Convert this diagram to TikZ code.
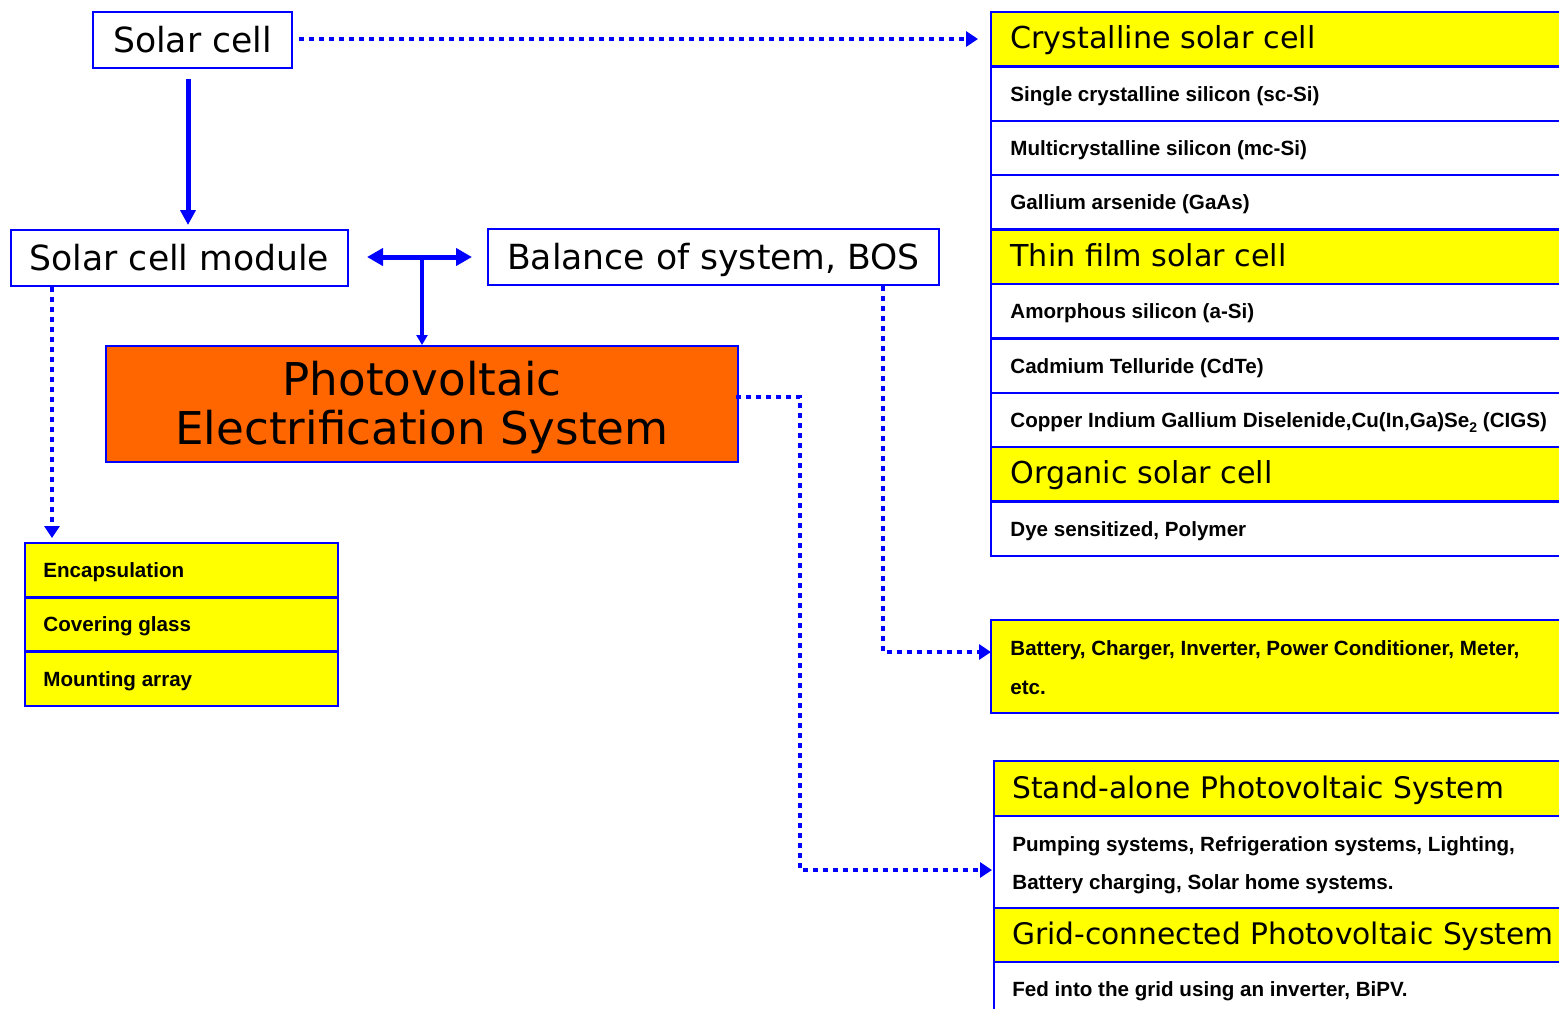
\documentclass[tikz,border=0pt]{standalone}
\usepackage{fontspec}
\setmainfont{DejaVu Sans}
\newfontfamily\arialf{Liberation Sans}
\usetikzlibrary{arrows.meta,calc}
\definecolor{bl}{RGB}{0,0,255}
\definecolor{yel}{RGB}{255,255,0}
\definecolor{org}{RGB}{255,102,0}
\begin{document}
\begin{tikzpicture}[x=0.5pt,y=-0.5pt,
  box/.style={draw=bl, line width=1pt, fill=white, inner sep=0pt, minimum height=28pt,
    font=\fontsize{17.3}{20}\selectfont, text height=12.6pt, text depth=0pt},
  row/.style={draw=bl, line width=1.2pt, inner sep=0pt, outer sep=0pt, anchor=north west,
    minimum height=27.2pt, minimum width=287pt},
  hdr/.style={anchor=west, inner sep=0pt, font=\fontsize{15.1}{18}\selectfont,
    text height=11pt, text depth=0pt},
  hdrb/.style={hdr, font=\fontsize{14.85}{18}\selectfont},
  itm/.style={anchor=west, inner sep=0pt, font=\arialf\bfseries\fontsize{10.3}{12}\selectfont,
    text height=7.4pt, text depth=0pt},
  solidarr/.style={draw=bl, line width=2.5pt, -{Triangle[length=7.5pt,width=7.5pt]}},
  dblarr/.style={draw=bl, line width=2.5pt, {Triangle[length=8pt,width=8.5pt]}-{Triangle[length=8pt,width=8.5pt]}},
  downarr/.style={draw=bl, line width=2pt, -{Triangle[length=5pt,width=5.5pt]}},
  dotarr/.style={draw=bl, line width=2.4pt, dash pattern=on 2.6pt off 2.4pt,
    -{Triangle[length=6pt,width=7.5pt]}}
]
\useasboundingbox (0,0) rectangle (1559,1008);
\fill[white] (0,0) rectangle (1559,1008);

% main boxes
\node[box, minimum width=99.5pt] (sc) at (192.5,40) {Solar cell};
\node[box, minimum width=168.5pt] (scm) at (179.5,258) {Solar cell module};
\node[box, minimum width=225.5pt] (bos) at (713.5,257) {Balance of system, BOS};
\node[draw=bl, line width=1pt, fill=org, inner sep=0pt, minimum width=316pt, minimum height=58pt] (pv) at (422,404) {};
\node[align=center, inner sep=0pt, font=\fontsize{22.6}{24.5}\selectfont] (pvt) at ($(pv.center)+(0,3.5)$)
  {Photovoltaic\\Electrification System};

% table of cell types
\node[row, fill=yel] (cr) at (991,12) {};
\node[row] (r1) at (991,66.4) {};
\node[row] (r2) at (991,120.8) {};
\node[row] (r3) at (991,175.2) {};
\node[row, fill=yel] (tf) at (991,229.6) {};
\node[row] (r4) at (991,284) {};
\node[row] (r5) at (991,338.4) {};
\node[row] (r6) at (991,392.8) {};
\node[row, fill=yel] (og) at (991,447.2) {};
\node[row] (r7) at (991,501.6) {};

\node[hdr] (crt) at ($(cr.west)+(19,-1.5)$) {Crystalline solar cell};
\node[itm] (r1t) at ($(r1.west)+(19,0)$) {Single crystalline silicon (sc-Si)};
\node[itm] (r2t) at ($(r2.west)+(19,0)$) {Multicrystalline silicon (mc-Si)};
\node[itm] (r3t) at ($(r3.west)+(19,0)$) {Gallium arsenide (GaAs)};
\node[hdr] (tft) at ($(tf.west)+(19,-1.5)$) {Thin film solar cell};
\node[itm] (r4t) at ($(r4.west)+(19,0)$) {Amorphous silicon (a-Si)};
\node[itm] (r5t) at ($(r5.west)+(19,0)$) {Cadmium Telluride (CdTe)};
\node[itm] (r6t) at ($(r6.west)+(19,0)$) {Copper Indium Gallium Diselenide,Cu(In,Ga)Se\raisebox{-0.45ex}{\fontsize{7}{8}\selectfont 2} (CIGS)};
\node[hdr] (ogt) at ($(og.west)+(19,-1.5)$) {Organic solar cell};
\node[itm] (r7t) at ($(r7.west)+(19,0)$) {Dye sensitized, Polymer};

% BOS box
\node[row, fill=yel, minimum height=46.5pt] (bat) at (991,620) {};
\node[itm] (bat1) at ($(bat.west)+(19,-18.5)$) {Battery, Charger, Inverter, Power Conditioner, Meter,};
\node[itm] (bat2) at ($(bat.west)+(19,20.5)$) {etc.};

% system table
\node[row, fill=yel, minimum width=285.5pt, minimum height=27.5pt] (sa) at (994,761) {};
\node[row, minimum width=285.5pt, minimum height=46pt] (sal) at (994,816) {};
\node[row, fill=yel, minimum width=285.5pt, minimum height=27pt] (gc) at (994,908) {};
\node[row, minimum width=285.5pt, minimum height=27.5pt] (gcl) at (994,962) {};
\node[hdrb] (sat) at ($(sa.west)+(18,-1.5)$) {Stand-alone Photovoltaic System};
\node[itm] (sal1) at ($(sal.west)+(18,-18)$) {Pumping systems, Refrigeration systems, Lighting,};
\node[itm] (sal2) at ($(sal.west)+(18,20)$) {Battery charging, Solar home systems.};
\node[hdrb] (gct) at ($(gc.west)+(18,-1.5)$) {Grid-connected Photovoltaic System};
\node[itm] (gclt) at ($(gcl.west)+(18,0)$) {Fed into the grid using an inverter, BiPV.};

% module parts table
\node[row, fill=yel, minimum width=156.5pt, minimum height=27.17pt] (enc) at (25,543) {};
\node[row, fill=yel, minimum width=156.5pt, minimum height=27.17pt] (cov) at (25,597.33) {};
\node[row, fill=yel, minimum width=156.5pt, minimum height=27.17pt] (mnt) at (25,651.67) {};
\node[itm] (enct) at ($(enc.west)+(18,0)$) {Encapsulation};
\node[itm] (covt) at ($(cov.west)+(18,0)$) {Covering glass};
\node[itm] (mntt) at ($(mnt.west)+(18,0)$) {Mounting array};

% solid connectors
\draw[solidarr] ($(sc.south)+(-4.5,10)$) -- ($(sc.south |- scm.north)+(-4.5,-4)$);
\draw[dblarr] ($(scm.east)+(18,-1)$) -- ($(bos.west)+(-15,0)$);
\coordinate (j) at (422,257);
\draw[downarr] (j) -- (pv.north);

% dotted connectors
\draw[dotarr] ($(sc.east)+(6,-1)$) -- ($(sc.east -| cr.west)+(-13,-1)$);
\draw[dotarr] ($(scm.south west)+(42,0)$) -- ($(scm.south west |- enc.north)+(42,-5)$);
\draw[dotarr] ($(bos.south east)+(-57,0)$) |- ($(bat.north west)+(0,32)$);
\coordinate (p1) at (800,397);
\draw[dotarr] ($(pv.east)+(-3,-7)$) -- (p1) |- ($(sal.west)+(-2,8)$);
\end{tikzpicture}
\end{document}
